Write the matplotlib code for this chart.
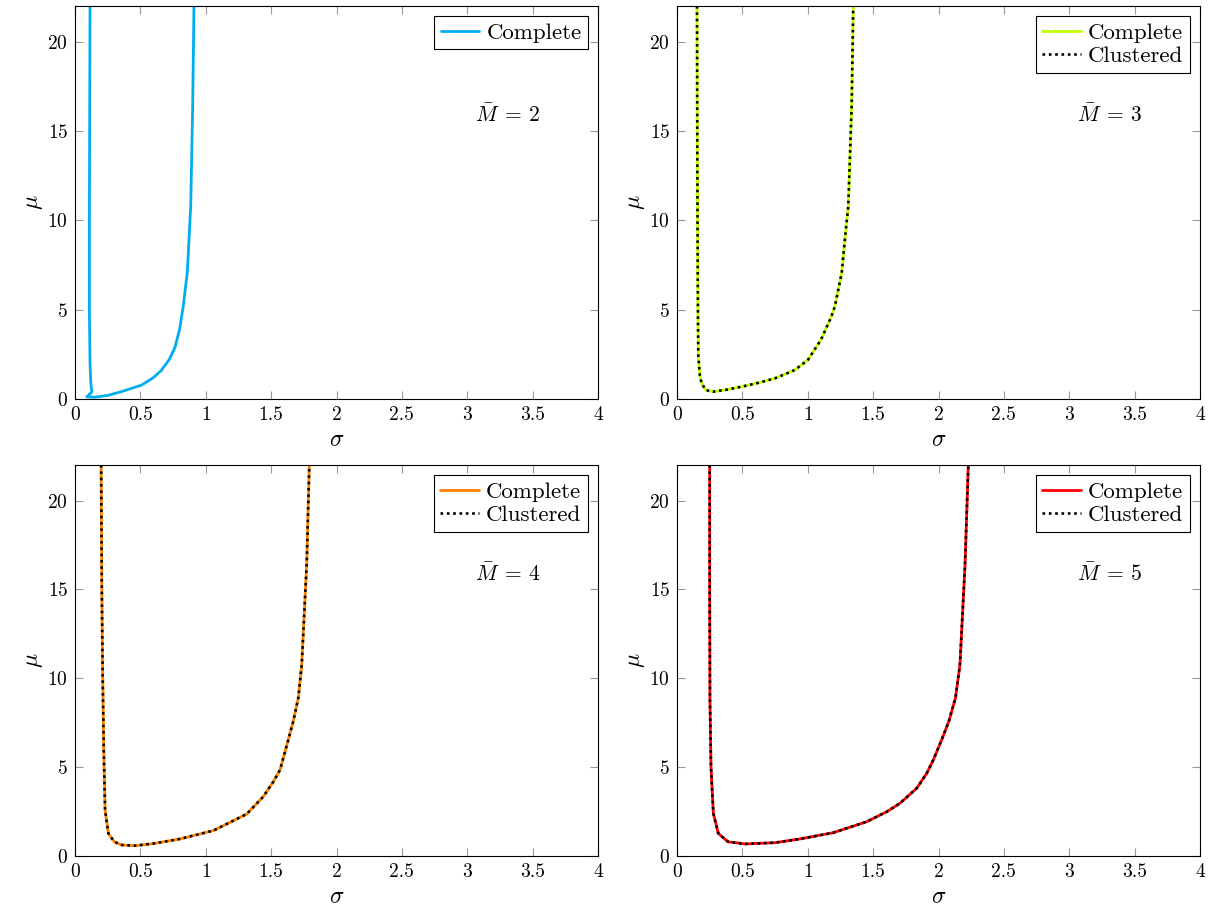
import matplotlib
matplotlib.use("Agg")
import matplotlib.pyplot as plt

plt.rcParams['font.family'] = 'serif'
plt.rcParams['font.serif'] = ['cmr10']
plt.rcParams['mathtext.fontset'] = 'cm'
plt.rcParams['axes.formatter.use_mathtext'] = True
plt.rcParams['axes.unicode_minus'] = False

# valores (sigma, mu) para cada M
sig_m2 = [0.115, 0.112, 0.11, 0.11, 0.115, 0.12, 0.125, 0.13, 0.09, 0.15, 0.25, 0.35,
          0.51, 0.6, 0.66, 0.72, 0.765, 0.8, 0.828, 0.859, 0.885, 0.9, 0.91]
mu_m2 = [22, 15, 10, 5, 2, 1, 0.6, 0.4, 0.12, 0.1, 0.2, 0.4,
         0.78, 1.2, 1.6, 2.2, 2.9, 3.9, 5.2, 7.1, 10.8, 16.4, 22]

sig_m3 = [0.153, 0.155, 0.157, 0.16, 0.163, 0.175, 0.188, 0.22, 0.277, 0.38, 0.495,
          0.62, 0.75, 0.9, 1.0, 1.1, 1.18, 1.208, 1.26, 1.285, 1.31, 1.336, 1.348]
mu_m3 = [22, 15, 10, 5, 2.4, 1.3, 0.88, 0.5, 0.41, 0.52, 0.69,
         0.9, 1.16, 1.62, 2.18, 3.3, 4.6, 5.2, 7.07, 9.0, 10.8, 16.4, 22]

sig_m4 = [0.2, 0.205, 0.212, 0.22, 0.23, 0.255, 0.3, 0.357, 0.46, 0.6, 0.803,
          1.058, 1.313, 1.44, 1.517, 1.568, 1.631, 1.67, 1.708, 1.734, 1.772, 1.792]
mu_m4 = [22, 15, 10, 6, 2.6, 1.27, 0.8, 0.62, 0.58, 0.7, 0.96,
         1.43, 2.36, 3.34, 4.18, 4.84, 6.53, 7.6, 8.9, 10.75, 16.4, 22]

sig_m5 = [0.25, 0.25, 0.252, 0.26, 0.278, 0.316, 0.39, 0.52, 0.75, 0.941, 1.195,
          1.451, 1.604, 1.706, 1.833, 1.91, 1.96, 2.024, 2.08, 2.13, 2.164, 2.203, 2.228]
mu_m5 = [22, 15, 8.8, 5, 2.4, 1.27, 0.8, 0.68, 0.75, 0.96, 1.31,
         1.93, 2.49, 2.97, 3.81, 4.65, 5.4, 6.53, 7.6, 8.9, 10.75, 16.4, 22]

paineis = [
    (2, sig_m2, mu_m2, '#00AEEF', False),
    (3, sig_m3, mu_m3, '#BFFF00', True),
    (4, sig_m4, mu_m4, '#FF8000', True),
    (5, sig_m5, mu_m5, '#FF0000', True),
]

xticks = [0, 0.5, 1, 1.5, 2, 2.5, 3, 3.5, 4]
xlabels = ['0', '0.5', '1', '1.5', '2', '2.5', '3', '3.5', '4']
yticks = [0, 5, 10, 15, 20]

fig = plt.figure(figsize=(12.14, 9.09), dpi=100)

posicoes = [
    [75 / 1214, 1 - 399 / 909, 523 / 1214, 393 / 909],
    [677 / 1214, 1 - 399 / 909, 523 / 1214, 393 / 909],
    [75 / 1214, 1 - 856 / 909, 523 / 1214, 391 / 909],
    [677 / 1214, 1 - 856 / 909, 523 / 1214, 391 / 909],
]

for pos, (m, sig, mu, cor, clustered) in zip(posicoes, paineis):
    ax = fig.add_axes(pos)
    ax.plot(sig, mu, color=cor, lw=2.0, label='Complete',
            solid_joinstyle='round', solid_capstyle='round')
    if clustered:
        ax.plot(sig, mu, color='black', lw=1.9, linestyle=(0, (1, 1.4)), label='Clustered')
    ax.set_xlim(0, 4)
    ax.set_ylim(0, 22)
    ax.set_xticks(xticks)
    ax.set_xticklabels(xlabels)
    ax.set_yticks(yticks)
    ax.tick_params(direction='in', length=6, width=0.8, color='#999999',
                   top=True, right=True, labelsize=14, pad=5)
    for s in ax.spines.values():
        s.set_linewidth(0.8)
    ax.set_xlabel(r'$\sigma$', fontsize=17, labelpad=4)
    ax.set_ylabel(r'$\mu$', fontsize=17, labelpad=2)
    ax.text(3.31, 15.9, r'$\bar{M}\;=\,%d$' % m, fontsize=15.5, ha='center', va='center')
    leg = ax.legend(loc='upper right', fontsize=16.5, fancybox=False, framealpha=1,
                    edgecolor='black', handlelength=1.7, borderpad=0.3,
                    labelspacing=0.15, handletextpad=0.3, borderaxespad=0.42)
    leg.get_frame().set_linewidth(0.8)

fig.savefig('out.png', dpi=100)
